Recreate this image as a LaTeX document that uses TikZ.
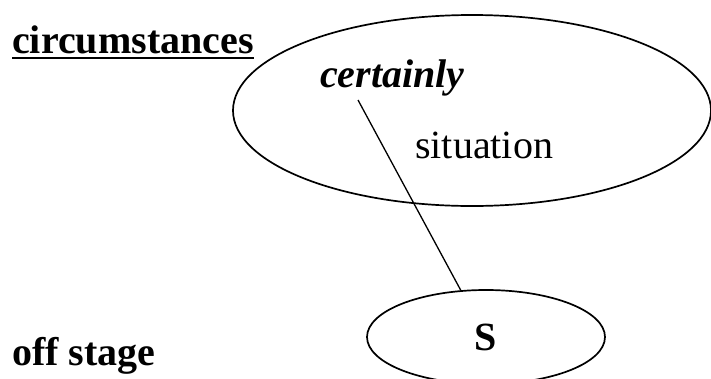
\documentclass[tikz,border=0pt]{standalone}
\usepackage{fontspec}
\setmainfont{Liberation Serif}
\usetikzlibrary{shapes.geometric}
\begin{document}
\begin{tikzpicture}[x=1pt,y=-1pt,
  lbl/.style={inner sep=0pt,anchor=base west,font=\fontsize{40}{40}\selectfont},
  oval/.style={draw,ellipse,line width=1.7pt,inner sep=0pt},
  link/.style={line width=1.3pt}]
  \useasboundingbox (0,0) rectangle (711,378);
  % situation oval with its labels
  \node[oval,minimum width=478pt,minimum height=191pt] (sit) at (472,110.5) {};
  \node[lbl,font=\fontsize{40}{40}\selectfont\bfseries\itshape] (cert) at (320,87) {certainly};
  \node[lbl] (situ) at (415,158) {situation};
  % subject oval
  \node[oval,minimum width=238pt,minimum height=94pt] (subj) at (486,337) {};
  \node[lbl,anchor=base,font=\fontsize{40}{40}\selectfont\bfseries] (slbl) at (486,350) {S};
  % side headings
  \node[lbl,font=\fontsize{40}{40}\selectfont\bfseries] (circ) at (12,53) {circumstances};
  \draw[line width=2.7pt] ([yshift=-5pt]circ.base west) -- ([yshift=-5pt]circ.base east);
  \node[lbl,font=\fontsize{40}{40}\selectfont\bfseries] (off) at (12,365) {off stage};
  % connector
  \coordinate (ctop) at (358,100);
  \draw[link] (ctop) -- (subj);
\end{tikzpicture}
\end{document}
